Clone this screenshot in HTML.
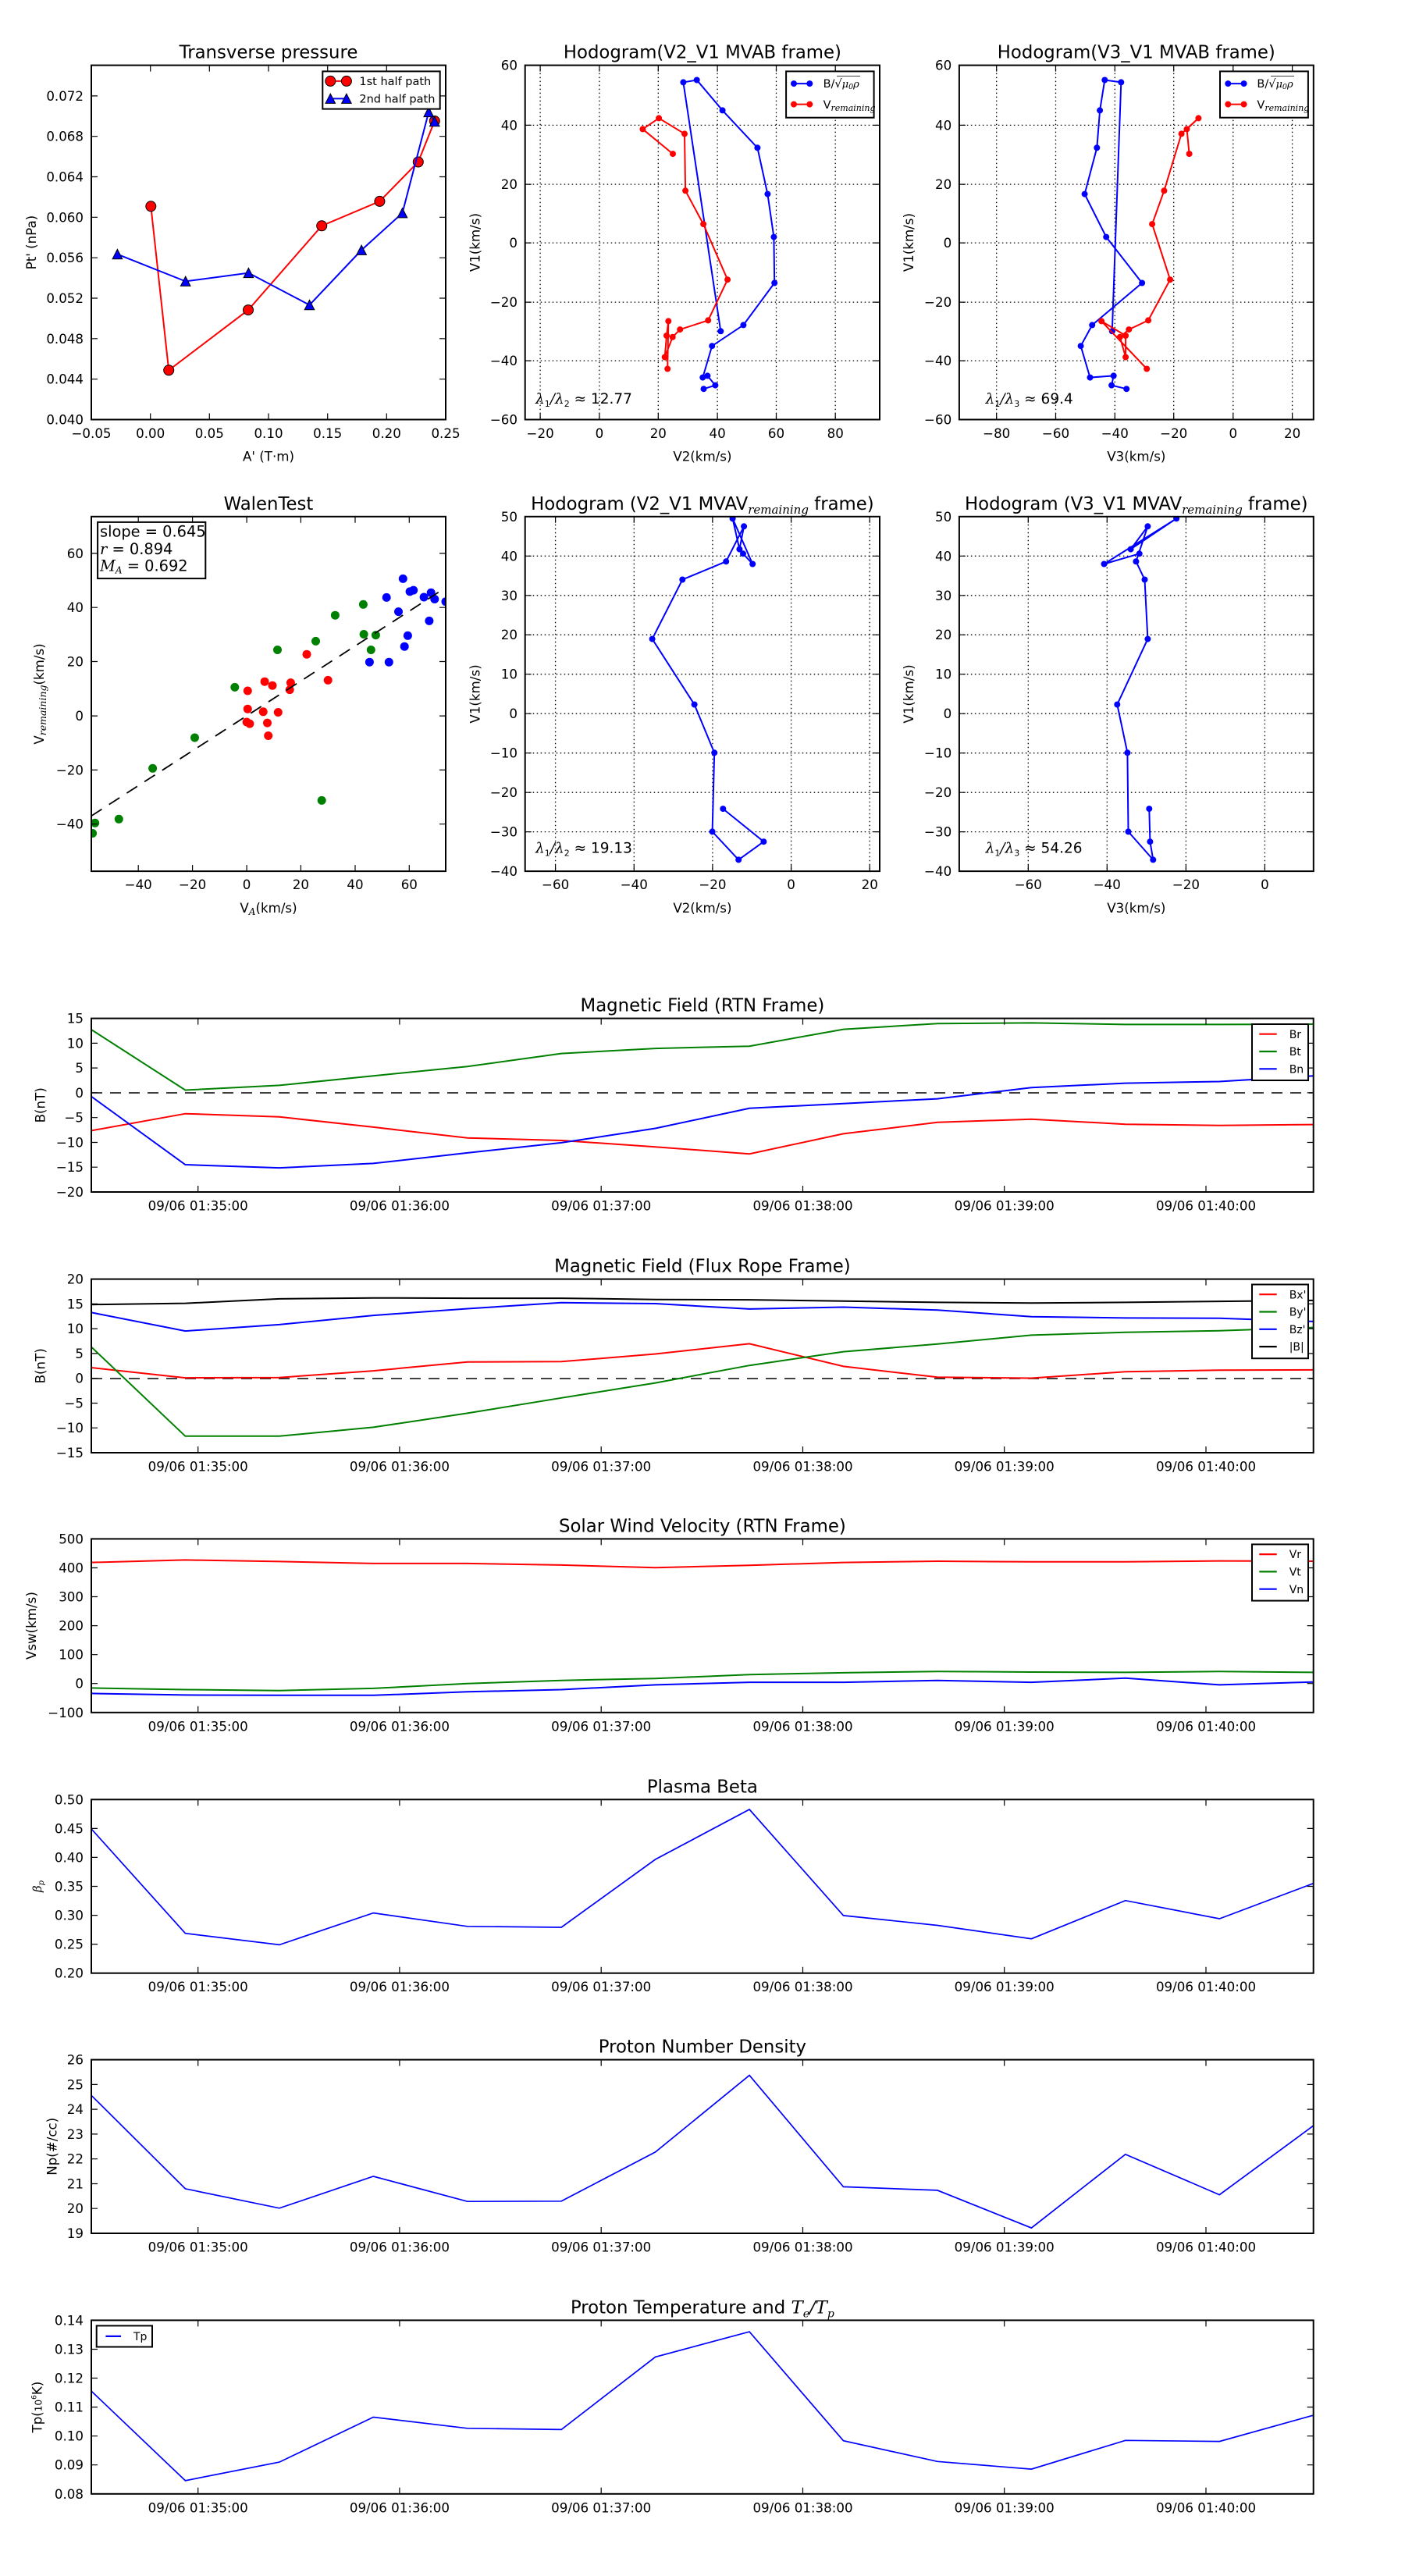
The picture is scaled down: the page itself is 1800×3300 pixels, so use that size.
<!DOCTYPE html>
<html><head><meta charset="utf-8"><style>
html,body{margin:0;padding:0;background:#fff}
svg{display:block}
.tk{font-size:16.67px}
.ttl{font-size:22.8px}
.lg{font-size:14px}
.lg1{font-size:14.5px}
.mi{font-family:'DejaVu Serif','Liberation Serif',serif;font-style:italic}
.grid{stroke:#000;stroke-width:1.3;stroke-dasharray:1.5 3.5;fill:none}
</style></head><body>
<svg width="1800" height="3300" xmlns="http://www.w3.org/2000/svg" font-family="'DejaVu Sans','Liberation Sans',sans-serif">
<defs>
<clipPath id="c1"><rect x="117" y="83.6" width="454" height="453.9"/></clipPath>
<clipPath id="c2"><rect x="672.7" y="83.6" width="454.3" height="453.9"/></clipPath>
<clipPath id="c3"><rect x="1228.9" y="83.6" width="453.9" height="453.9"/></clipPath>
<clipPath id="c4"><rect x="117" y="661.8" width="454" height="454.3"/></clipPath>
<clipPath id="c5"><rect x="672.7" y="661.8" width="454.3" height="454.3"/></clipPath>
<clipPath id="c6"><rect x="1228.9" y="661.8" width="453.9" height="454.3"/></clipPath>
<clipPath id="t1"><rect x="117" y="1304.6" width="1565.7" height="222.4"/></clipPath>
<clipPath id="t2"><rect x="117" y="1638.6" width="1565.7" height="222.4"/></clipPath>
<clipPath id="t3"><rect x="117" y="1971.4" width="1565.7" height="222.4"/></clipPath>
<clipPath id="t4"><rect x="117" y="2305.3" width="1565.7" height="222.4"/></clipPath>
<clipPath id="t5"><rect x="117" y="2638.6" width="1565.7" height="222.4"/></clipPath>
<clipPath id="t6"><rect x="117" y="2972.4" width="1565.7" height="222.4"/></clipPath>
<marker id="mrc" viewBox="-8 -8 16 16" markerWidth="16" markerHeight="16" refX="0" refY="0" markerUnits="userSpaceOnUse" overflow="visible"><circle r="6.5" fill="#f00" stroke="#000" stroke-width="1"/></marker>
<marker id="mbt" viewBox="-8 -8 16 16" markerWidth="16" markerHeight="16" refX="0" refY="0" markerUnits="userSpaceOnUse" overflow="visible"><path d="M0,-6.3L6.3,6L-6.3,6Z" fill="#00f" stroke="#000" stroke-width="1"/></marker>
<marker id="mb" viewBox="-5 -5 10 10" markerWidth="10" markerHeight="10" refX="0" refY="0" markerUnits="userSpaceOnUse" overflow="visible"><circle r="4" fill="#00f"/></marker>
<marker id="mr" viewBox="-5 -5 10 10" markerWidth="10" markerHeight="10" refX="0" refY="0" markerUnits="userSpaceOnUse" overflow="visible"><circle r="4" fill="#f00"/></marker>
</defs>
<rect width="1800" height="3300" fill="#fff"/>

<!-- ============ Panel 1: Transverse pressure ============ -->
<text class="ttl" x="344" y="74.6" text-anchor="middle">Transverse pressure</text>
<g clip-path="url(#c1)">
<polyline points="193.3,264.3 216.2,474.3 318,397.1 412.2,289.3 486.4,257.9 535.8,207.5 556.8,155" fill="none" stroke="#f00" stroke-width="2" marker-start="url(#mrc)" marker-mid="url(#mrc)" marker-end="url(#mrc)"/>
<polyline points="150.4,325.7 237.7,360.4 318.4,349.6 396.5,390.7 463.1,320.4 515.5,272.9 549.2,143.6 556.8,155.7" fill="none" stroke="#00f" stroke-width="2" marker-start="url(#mbt)" marker-mid="url(#mbt)" marker-end="url(#mbt)"/>
</g>
<path d="M192.7 537.5v-8M192.7 83.6v8M268.3 537.5v-8M268.3 83.6v8M344 537.5v-8M344 83.6v8M419.7 537.5v-8M419.7 83.6v8M495.3 537.5v-8M495.3 83.6v8M117 485.7h8M571 485.7h-8M117 433.8h8M571 433.8h-8M117 382h8M571 382h-8M117 330.2h8M571 330.2h-8M117 278.3h8M571 278.3h-8M117 226.5h8M571 226.5h-8M117 174.7h8M571 174.7h-8M117 122.9h8M571 122.9h-8" stroke="#000" stroke-width="1.2" fill="none"/>
<rect x="117" y="83.6" width="454" height="453.9" fill="none" stroke="#000" stroke-width="2"/>
<g class="tk" text-anchor="end">
<text x="107" y="543.5">0.040</text><text x="107" y="491.7">0.044</text><text x="107" y="439.8">0.048</text><text x="107" y="388">0.052</text><text x="107" y="336.2">0.056</text><text x="107" y="284.3">0.060</text><text x="107" y="232.5">0.064</text><text x="107" y="180.7">0.068</text><text x="107" y="128.9">0.072</text>
</g>
<g class="tk" text-anchor="middle">
<text x="117" y="560.8">−0.05</text><text x="192.7" y="560.8">0.00</text><text x="268.3" y="560.8">0.05</text><text x="344" y="560.8">0.10</text><text x="419.7" y="560.8">0.15</text><text x="495.3" y="560.8">0.20</text><text x="571" y="560.8">0.25</text>
<text x="344" y="590.5">A' (T·m)</text>
<text transform="translate(40.2,310.6) rotate(-90)" y="6">Pt' (nPa)</text>
</g>
<rect x="413.3" y="91.4" width="150.4" height="48.2" fill="#fff" stroke="#000" stroke-width="2"/>
<line x1="423.3" y1="103.9" x2="443.9" y2="103.9" stroke="#f00" stroke-width="2" marker-start="url(#mrc)" marker-end="url(#mrc)"/>
<line x1="423.3" y1="126.4" x2="443.9" y2="126.4" stroke="#00f" stroke-width="2" marker-start="url(#mbt)" marker-end="url(#mbt)"/>
<text class="lg1" x="460.4" y="109">1st half path</text>
<text class="lg1" x="460.4" y="131.5">2nd half path</text>

<!-- ============ Panel 2: Hodogram V2_V1 MVAB ============ -->
<text class="ttl" x="899.9" y="74.6" text-anchor="middle">Hodogram(V2_V1 MVAB frame)</text>
<path class="grid" d="M692.1 83.6V537.5M767.9 83.6V537.5M843.3 83.6V537.5M919.1 83.6V537.5M994.5 83.6V537.5M1070.2 83.6V537.5M672.7 160.4H1127M672.7 236.1H1127M672.7 311.1H1127M672.7 387.1H1127M672.7 462.1H1127"/>
<g clip-path="url(#c2)">
<polyline points="923.3,424.3 875.4,105.4 892.7,102.5 925.6,141.4 970.4,189.3 983.4,248.6 991.4,303.6 992.2,362.5 952.4,416.4 912.2,443.2 900.3,483.6 906.4,481.4 916.4,493.6 901.5,498.2" fill="none" stroke="#00f" stroke-width="2" marker-start="url(#mb)" marker-mid="url(#mb)" marker-end="url(#mb)"/>
<polyline points="862,197.1 823.4,165.4 844.1,151.4 877,171.4 878.1,244.3 901.1,287.1 932.1,358.2 907.2,410.4 871.2,422.1 861.7,431.8 851.7,457.5 854,430 856.3,411.4 855.2,472.5" fill="none" stroke="#f00" stroke-width="2" marker-start="url(#mr)" marker-mid="url(#mr)" marker-end="url(#mr)"/>
</g>
<path d="M692.1 537.5v-8M692.1 83.6v8M767.9 537.5v-8M767.9 83.6v8M843.3 537.5v-8M843.3 83.6v8M919.1 537.5v-8M919.1 83.6v8M994.5 537.5v-8M994.5 83.6v8M1070.2 537.5v-8M1070.2 83.6v8M672.7 160.4h8M1127 160.4h-8M672.7 236.1h8M1127 236.1h-8M672.7 311.1h8M1127 311.1h-8M672.7 387.1h8M1127 387.1h-8M672.7 462.1h8M1127 462.1h-8" stroke="#000" stroke-width="1.2" fill="none"/>
<rect x="672.7" y="83.6" width="454.3" height="453.9" fill="none" stroke="#000" stroke-width="2"/>
<g class="tk" text-anchor="end">
<text x="663" y="89.6">60</text><text x="663" y="166.4">40</text><text x="663" y="242.1">20</text><text x="663" y="317.1">0</text><text x="663" y="393.1">−20</text><text x="663" y="468.1">−40</text><text x="663" y="543.5">−60</text>
</g>
<g class="tk" text-anchor="middle">
<text x="692.1" y="560.8">−20</text><text x="767.9" y="560.8">0</text><text x="843.3" y="560.8">20</text><text x="919.1" y="560.8">40</text><text x="994.5" y="560.8">60</text><text x="1070.2" y="560.8">80</text>
<text x="899.9" y="590.5">V2(km/s)</text>
<text transform="translate(608.7,310.6) rotate(-90)" y="6">V1(km/s)</text>
</g>
<text x="686" y="517" font-size="18.5"><tspan class="mi">λ</tspan><tspan font-size="11" dy="4">1</tspan><tspan class="mi" dy="-4">/λ</tspan><tspan font-size="11" dy="4">2</tspan><tspan dy="-4"> ≈ 12.77</tspan></text>
<rect x="1007.1" y="91.4" width="112.5" height="59.3" fill="#fff" stroke="#000" stroke-width="2"/>
<line x1="1017" y1="107.1" x2="1037.3" y2="107.1" stroke="#00f" stroke-width="2" marker-start="url(#mb)" marker-end="url(#mb)"/>
<line x1="1017" y1="133.6" x2="1037.3" y2="133.6" stroke="#f00" stroke-width="2" marker-start="url(#mr)" marker-end="url(#mr)"/>
<text class="lg1" x="1054.6" y="112">B/√<tspan class="mi" font-size="13">μ</tspan><tspan class="mi" font-size="9.5" dy="2">0</tspan><tspan class="mi" font-size="13" dy="-2">ρ</tspan></text>
<line x1="1072" y1="97.5" x2="1102" y2="97.5" stroke="#000" stroke-width="0.8"/>
<text class="lg1" x="1054.6" y="139">V<tspan class="mi" font-size="11" dy="3">remaining</tspan></text>

<!-- ============ Panel 3: Hodogram V3_V1 MVAB ============ -->
<text class="ttl" x="1455.8" y="74.6" text-anchor="middle">Hodogram(V3_V1 MVAB frame)</text>
<path class="grid" d="M1276.7 83.6V537.5M1352.5 83.6V537.5M1428.3 83.6V537.5M1503.7 83.6V537.5M1579.8 83.6V537.5M1655.6 83.6V537.5M1228.9 160.4H1682.8M1228.9 236.1H1682.8M1228.9 311.1H1682.8M1228.9 387.1H1682.8M1228.9 462.1H1682.8"/>
<g clip-path="url(#c3)">
<polyline points="1424.8,424.3 1436.3,105.4 1415.3,102.5 1409.1,141.4 1405.3,189.3 1389.6,248.6 1417.2,303.6 1463.1,362.5 1399.2,416.4 1384.6,443.2 1396.5,483.6 1426.7,481.4 1424.1,493.6 1443.2,498.2" fill="none" stroke="#00f" stroke-width="2" marker-start="url(#mb)" marker-mid="url(#mb)" marker-end="url(#mb)"/>
<polyline points="1523.6,197.1 1520.5,165.4 1535.4,151.4 1513.6,171.4 1491.4,244.3 1476.1,287.1 1499.1,358.2 1471.1,410.4 1446.3,422.1 1434.8,431.8 1442.1,457.5 1442.1,430 1411.1,411.4 1469.2,472.5" fill="none" stroke="#f00" stroke-width="2" marker-start="url(#mr)" marker-mid="url(#mr)" marker-end="url(#mr)"/>
</g>
<path d="M1276.7 537.5v-8M1276.7 83.6v8M1352.5 537.5v-8M1352.5 83.6v8M1428.3 537.5v-8M1428.3 83.6v8M1503.7 537.5v-8M1503.7 83.6v8M1579.8 537.5v-8M1579.8 83.6v8M1655.6 537.5v-8M1655.6 83.6v8M1228.9 160.4h8M1682.8 160.4h-8M1228.9 236.1h8M1682.8 236.1h-8M1228.9 311.1h8M1682.8 311.1h-8M1228.9 387.1h8M1682.8 387.1h-8M1228.9 462.1h8M1682.8 462.1h-8" stroke="#000" stroke-width="1.2" fill="none"/>
<rect x="1228.9" y="83.6" width="453.9" height="453.9" fill="none" stroke="#000" stroke-width="2"/>
<g class="tk" text-anchor="end">
<text x="1219.2" y="89.6">60</text><text x="1219.2" y="166.4">40</text><text x="1219.2" y="242.1">20</text><text x="1219.2" y="317.1">0</text><text x="1219.2" y="393.1">−20</text><text x="1219.2" y="468.1">−40</text><text x="1219.2" y="543.5">−60</text>
</g>
<g class="tk" text-anchor="middle">
<text x="1276.7" y="560.8">−80</text><text x="1352.5" y="560.8">−60</text><text x="1428.3" y="560.8">−40</text><text x="1503.7" y="560.8">−20</text><text x="1579.8" y="560.8">0</text><text x="1655.6" y="560.8">20</text>
<text x="1455.8" y="590.5">V3(km/s)</text>
<text transform="translate(1164,310.6) rotate(-90)" y="6">V1(km/s)</text>
</g>
<text x="1262.6" y="517" font-size="18.5"><tspan class="mi">λ</tspan><tspan font-size="11" dy="4">1</tspan><tspan class="mi" dy="-4">/λ</tspan><tspan font-size="11" dy="4">3</tspan><tspan dy="-4"> ≈ 69.4</tspan></text>
<rect x="1563" y="91.4" width="112.9" height="59.3" fill="#fff" stroke="#000" stroke-width="2"/>
<line x1="1573.3" y1="107.1" x2="1593.6" y2="107.1" stroke="#00f" stroke-width="2" marker-start="url(#mb)" marker-end="url(#mb)"/>
<line x1="1573.3" y1="133.6" x2="1593.6" y2="133.6" stroke="#f00" stroke-width="2" marker-start="url(#mr)" marker-end="url(#mr)"/>
<text class="lg1" x="1610.4" y="112">B/√<tspan class="mi" font-size="13">μ</tspan><tspan class="mi" font-size="9.5" dy="2">0</tspan><tspan class="mi" font-size="13" dy="-2">ρ</tspan></text>
<line x1="1628" y1="97.5" x2="1658" y2="97.5" stroke="#000" stroke-width="0.8"/>
<text class="lg1" x="1610.4" y="139">V<tspan class="mi" font-size="11" dy="3">remaining</tspan></text>

<!-- ============ Walen Test ============ -->
<text class="ttl" x="344" y="652.8" text-anchor="middle">WalenTest</text>
<g clip-path="url(#c4)">
<g fill="#008000">
<circle cx="118.6" cy="1067.5" r="5.5"/><circle cx="121.7" cy="1054.3" r="5.5"/><circle cx="152.3" cy="1049.3" r="5.5"/><circle cx="195.6" cy="984.3" r="5.5"/><circle cx="249.5" cy="945" r="5.5"/><circle cx="300.8" cy="880.4" r="5.5"/><circle cx="355.5" cy="832.5" r="5.5"/><circle cx="404.5" cy="821.4" r="5.5"/><circle cx="429.4" cy="788.2" r="5.5"/><circle cx="465.4" cy="774.3" r="5.5"/><circle cx="466.1" cy="812.5" r="5.5"/><circle cx="481.4" cy="813.6" r="5.5"/><circle cx="475.3" cy="832.5" r="5.5"/><circle cx="412.2" cy="1025.4" r="5.5"/>
</g>
<g fill="#f00">
<circle cx="317.3" cy="885" r="5.5"/><circle cx="317.3" cy="908.2" r="5.5"/><circle cx="316.1" cy="925" r="5.5"/><circle cx="319.9" cy="927.1" r="5.5"/><circle cx="339.1" cy="873.2" r="5.5"/><circle cx="349" cy="878.2" r="5.5"/><circle cx="337.2" cy="911.8" r="5.5"/><circle cx="356.3" cy="912.5" r="5.5"/><circle cx="342.5" cy="926.1" r="5.5"/><circle cx="343.7" cy="942.5" r="5.5"/><circle cx="371.2" cy="883.6" r="5.5"/><circle cx="372.4" cy="874.6" r="5.5"/><circle cx="393" cy="838.2" r="5.5"/><circle cx="420.2" cy="871.4" r="5.5"/>
</g>
<g fill="#00f">
<circle cx="516.3" cy="741.4" r="5.5"/><circle cx="495.2" cy="765.4" r="5.5"/><circle cx="510.5" cy="783.6" r="5.5"/><circle cx="473.4" cy="848.2" r="5.5"/><circle cx="498.3" cy="848.2" r="5.5"/><circle cx="518.2" cy="828.2" r="5.5"/><circle cx="522.4" cy="814.3" r="5.5"/><circle cx="525.1" cy="757.9" r="5.5"/><circle cx="529.7" cy="756.1" r="5.5"/><circle cx="543.1" cy="765" r="5.5"/><circle cx="552.2" cy="759.3" r="5.5"/><circle cx="556.8" cy="767.5" r="5.5"/><circle cx="549.9" cy="795.4" r="5.5"/><circle cx="571" cy="770.7" r="5.5"/>
</g>
<line x1="117" y1="1045.3" x2="571" y2="752.8" stroke="#000" stroke-width="1.8" stroke-dasharray="16 11"/>
</g>
<path d="M177.2 1116.1v-8M177.2 661.8v8M246.6 1116.1v-8M246.6 661.8v8M316.1 1116.1v-8M316.1 661.8v8M385.4 1116.1v-8M385.4 661.8v8M455 1116.1v-8M455 661.8v8M524.3 1116.1v-8M524.3 661.8v8M117 708.9h8M571 708.9h-8M117 778.2h8M571 778.2h-8M117 847.5h8M571 847.5h-8M117 917.1h8M571 917.1h-8M117 986.4h8M571 986.4h-8M117 1055.7h8M571 1055.7h-8" stroke="#000" stroke-width="1.2" fill="none"/>
<rect x="117" y="661.8" width="454" height="454.3" fill="none" stroke="#000" stroke-width="2"/>
<g class="tk" text-anchor="end">
<text x="107" y="714.9">60</text><text x="107" y="784.2">40</text><text x="107" y="853.5">20</text><text x="107" y="923.1">0</text><text x="107" y="992.4">−20</text><text x="107" y="1061.7">−40</text>
</g>
<g class="tk" text-anchor="middle">
<text x="177.2" y="1138.8">−40</text><text x="246.6" y="1138.8">−20</text><text x="316.1" y="1138.8">0</text><text x="385.4" y="1138.8">20</text><text x="455" y="1138.8">40</text><text x="524.3" y="1138.8">60</text>
<text x="344" y="1169">V<tspan class="mi" font-size="12" dy="3">A</tspan><tspan dy="-3">(km/s)</tspan></text>
<text transform="translate(49.8,889) rotate(-90)" y="6">V<tspan class="mi" font-size="12.5" dy="3">remaining</tspan><tspan dy="-3">(km/s)</tspan></text>
</g>
<rect x="125.1" y="668.9" width="138.2" height="72.2" fill="#fff" stroke="#000" stroke-width="2"/>
<g font-size="19.4">
<text x="128" y="687.4">slope = 0.645</text>
<text x="128" y="709.9"><tspan class="mi">r</tspan> = 0.894</text>
<text x="128" y="731.3"><tspan class="mi">M</tspan><tspan class="mi" font-size="12" dy="3">A</tspan><tspan dy="-3"> = 0.692</tspan></text>
</g>

<!-- ============ Row 2 Panel 2 ============ -->
<text class="ttl" x="899.9" y="652.8" text-anchor="middle">Hodogram (V2_V1 MVAV<tspan class="mi" font-size="15" dy="5">remaining</tspan><tspan dy="-5"> frame)</tspan></text>
<path class="grid" d="M711.6 661.8V1116.1M812.3 661.8V1116.1M912.9 661.8V1116.1M1013.6 661.8V1116.1M1114.2 661.8V1116.1M672.7 712.3H1127M672.7 762.8H1127M672.7 813.2H1127M672.7 863.7H1127M672.7 914.2H1127M672.7 964.7H1127M672.7 1015.2H1127M672.7 1065.6H1127"/>
<g clip-path="url(#c5)">
<polyline points="926.3,1036.1 978.4,1078.2 946.2,1101.4 912.6,1065.4 915.2,964.3 889.6,902.5 835.6,818.6 874.3,742.5 930.2,719.3 953.1,674.3 947.4,703.6 938.6,664.3 964.2,722.5 952,709.3" fill="none" stroke="#00f" stroke-width="2" marker-start="url(#mb)" marker-mid="url(#mb)" marker-end="url(#mb)"/>
</g>
<path d="M711.6 1116.1v-8M711.6 661.8v8M812.3 1116.1v-8M812.3 661.8v8M912.9 1116.1v-8M912.9 661.8v8M1013.6 1116.1v-8M1013.6 661.8v8M1114.2 1116.1v-8M1114.2 661.8v8M672.7 712.3h8M1127 712.3h-8M672.7 762.8h8M1127 762.8h-8M672.7 813.2h8M1127 813.2h-8M672.7 863.7h8M1127 863.7h-8M672.7 914.2h8M1127 914.2h-8M672.7 964.7h8M1127 964.7h-8M672.7 1015.2h8M1127 1015.2h-8M672.7 1065.6h8M1127 1065.6h-8" stroke="#000" stroke-width="1.2" fill="none"/>
<rect x="672.7" y="661.8" width="454.3" height="454.3" fill="none" stroke="#000" stroke-width="2"/>
<g class="tk" text-anchor="end">
<text x="663" y="667.8">50</text><text x="663" y="718.3">40</text><text x="663" y="768.8">30</text><text x="663" y="819.2">20</text><text x="663" y="869.7">10</text><text x="663" y="920.2">0</text><text x="663" y="970.7">−10</text><text x="663" y="1021.2">−20</text><text x="663" y="1071.6">−30</text><text x="663" y="1122.1">−40</text>
</g>
<g class="tk" text-anchor="middle">
<text x="711.6" y="1138.8">−60</text><text x="812.3" y="1138.8">−40</text><text x="912.9" y="1138.8">−20</text><text x="1013.6" y="1138.8">0</text><text x="1114.2" y="1138.8">20</text>
<text x="899.9" y="1169">V2(km/s)</text>
<text transform="translate(608.7,889) rotate(-90)" y="6">V1(km/s)</text>
</g>
<text x="686" y="1092.3" font-size="18.5"><tspan class="mi">λ</tspan><tspan font-size="11" dy="4">1</tspan><tspan class="mi" dy="-4">/λ</tspan><tspan font-size="11" dy="4">2</tspan><tspan dy="-4"> ≈ 19.13</tspan></text>

<!-- ============ Row 2 Panel 3 ============ -->
<text class="ttl" x="1455.8" y="652.8" text-anchor="middle">Hodogram (V3_V1 MVAV<tspan class="mi" font-size="15" dy="5">remaining</tspan><tspan dy="-5"> frame)</tspan></text>
<path class="grid" d="M1317.3 661.8V1116.1M1418.3 661.8V1116.1M1519.4 661.8V1116.1M1620.4 661.8V1116.1M1228.9 712.3H1682.8M1228.9 762.8H1682.8M1228.9 813.2H1682.8M1228.9 863.7H1682.8M1228.9 914.2H1682.8M1228.9 964.7H1682.8M1228.9 1015.2H1682.8M1228.9 1065.6H1682.8"/>
<g clip-path="url(#c6)">
<polyline points="1472.3,1036.1 1473.4,1078.2 1477.3,1101.4 1445.5,1065.4 1444.4,964.3 1431.3,902.5 1470.4,818.6 1466.5,742.5 1455.4,719.3 1470.4,674.3 1448.6,703.6 1507.1,664.3 1414.5,722.5 1459.7,709.3" fill="none" stroke="#00f" stroke-width="2" marker-start="url(#mb)" marker-mid="url(#mb)" marker-end="url(#mb)"/>
</g>
<path d="M1317.3 1116.1v-8M1317.3 661.8v8M1418.3 1116.1v-8M1418.3 661.8v8M1519.4 1116.1v-8M1519.4 661.8v8M1620.4 1116.1v-8M1620.4 661.8v8M1228.9 712.3h8M1682.8 712.3h-8M1228.9 762.8h8M1682.8 762.8h-8M1228.9 813.2h8M1682.8 813.2h-8M1228.9 863.7h8M1682.8 863.7h-8M1228.9 914.2h8M1682.8 914.2h-8M1228.9 964.7h8M1682.8 964.7h-8M1228.9 1015.2h8M1682.8 1015.2h-8M1228.9 1065.6h8M1682.8 1065.6h-8" stroke="#000" stroke-width="1.2" fill="none"/>
<rect x="1228.9" y="661.8" width="453.9" height="454.3" fill="none" stroke="#000" stroke-width="2"/>
<g class="tk" text-anchor="end">
<text x="1219.2" y="667.8">50</text><text x="1219.2" y="718.3">40</text><text x="1219.2" y="768.8">30</text><text x="1219.2" y="819.2">20</text><text x="1219.2" y="869.7">10</text><text x="1219.2" y="920.2">0</text><text x="1219.2" y="970.7">−10</text><text x="1219.2" y="1021.2">−20</text><text x="1219.2" y="1071.6">−30</text><text x="1219.2" y="1122.1">−40</text>
</g>
<g class="tk" text-anchor="middle">
<text x="1317.3" y="1138.8">−60</text><text x="1418.3" y="1138.8">−40</text><text x="1519.4" y="1138.8">−20</text><text x="1620.4" y="1138.8">0</text>
<text x="1455.8" y="1169">V3(km/s)</text>
<text transform="translate(1164,889) rotate(-90)" y="6">V1(km/s)</text>
</g>
<text x="1262.6" y="1092.3" font-size="18.5"><tspan class="mi">λ</tspan><tspan font-size="11" dy="4">1</tspan><tspan class="mi" dy="-4">/λ</tspan><tspan font-size="11" dy="4">3</tspan><tspan dy="-4"> ≈ 54.26</tspan></text>

<!-- ============ TS 1: Magnetic Field RTN ============ -->
<text class="ttl" x="899.9" y="1295.6" text-anchor="middle">Magnetic Field (RTN Frame)</text>
<g clip-path="url(#t1)">
<line x1="117" y1="1400" x2="1682.7" y2="1400" stroke="#000" stroke-width="1.5" stroke-dasharray="14 10"/>
<polyline points="117,1448.4 237.4,1426.7 357.9,1430.8 478.3,1443.9 598.8,1457.8 719.2,1461 839.6,1469.2 960.1,1478.2 1080.5,1452.4 1201,1437.8 1321.4,1433.7 1441.8,1440.2 1562.3,1441.8 1682.7,1440.6" fill="none" stroke="#f00" stroke-width="2"/>
<polyline points="117,1319 237.4,1396.5 357.9,1390.4 478.3,1378.2 598.8,1366.3 719.2,1349.6 839.6,1343.1 960.1,1340.2 1080.5,1318.6 1201,1311.2 1321.4,1310.4 1441.8,1312.4 1562.3,1312.4 1682.7,1312" fill="none" stroke="#008000" stroke-width="2"/>
<polyline points="117,1404.7 237.4,1492 357.9,1496.1 478.3,1490.4 598.8,1476.9 719.2,1463.9 839.6,1445.5 960.1,1419.8 1080.5,1413.7 1201,1407.6 1321.4,1393.3 1441.8,1387.6 1562.3,1385.5 1682.7,1378.2" fill="none" stroke="#00f" stroke-width="2"/>
</g>
<path d="M253.7 1527v-8M253.7 1304.6v8M511.9 1527v-8M511.9 1304.6v8M770.2 1527v-8M770.2 1304.6v8M1028.5 1527v-8M1028.5 1304.6v8M1286.7 1527v-8M1286.7 1304.6v8M1545 1527v-8M1545 1304.6v8M117 1336.4h8M1682.7 1336.4h-8M117 1368.1h8M1682.7 1368.1h-8M117 1399.9h8M1682.7 1399.9h-8M117 1431.7h8M1682.7 1431.7h-8M117 1463.5h8M1682.7 1463.5h-8M117 1495.2h8M1682.7 1495.2h-8" stroke="#000" stroke-width="1.2" fill="none"/>
<rect x="117" y="1304.6" width="1565.7" height="222.4" fill="none" stroke="#000" stroke-width="2"/>
<g class="tk" text-anchor="end">
<text x="107" y="1310.6">15</text><text x="107" y="1342.4">10</text><text x="107" y="1374.1">5</text><text x="107" y="1405.9">0</text><text x="107" y="1437.7">−5</text><text x="107" y="1469.5">−10</text><text x="107" y="1501.2">−15</text><text x="107" y="1533">−20</text>
</g>
<g class="tk" text-anchor="middle">
<text x="253.7" y="1550.5">09/06 01:35:00</text><text x="511.9" y="1550.5">09/06 01:36:00</text><text x="770.2" y="1550.5">09/06 01:37:00</text><text x="1028.5" y="1550.5">09/06 01:38:00</text><text x="1286.7" y="1550.5">09/06 01:39:00</text><text x="1545" y="1550.5">09/06 01:40:00</text>
<text transform="translate(51.7,1415.8) rotate(-90)" y="6">B(nT)</text>
</g>
<rect x="1604" y="1312" width="72" height="72" fill="#fff" stroke="#000" stroke-width="2"/>
<line x1="1613.3" y1="1324.7" x2="1635.7" y2="1324.7" stroke="#f00" stroke-width="2.2"/>
<line x1="1613.3" y1="1347" x2="1635.7" y2="1347" stroke="#008000" stroke-width="2.2"/>
<line x1="1613.3" y1="1369.3" x2="1635.7" y2="1369.3" stroke="#00f" stroke-width="2.2"/>
<g class="lg"><text x="1651.7" y="1329.8">Br</text><text x="1651.7" y="1352.1">Bt</text><text x="1651.7" y="1374.4">Bn</text></g>

<!-- ============ TS 2: Magnetic Field Flux Rope ============ -->
<text class="ttl" x="899.9" y="1629.6" text-anchor="middle">Magnetic Field (Flux Rope Frame)</text>
<g clip-path="url(#t2)">
<line x1="117" y1="1766" x2="1682.7" y2="1766" stroke="#000" stroke-width="1.5" stroke-dasharray="14 10"/>
<polyline points="117,1752 237.4,1765.1 357.9,1764.7 478.3,1756.1 598.8,1744.7 719.2,1744.3 839.6,1734.5 960.1,1721.4 1080.5,1750.4 1201,1764.3 1321.4,1765.5 1441.8,1757.3 1562.3,1755.3 1682.7,1754.9" fill="none" stroke="#f00" stroke-width="2"/>
<polyline points="117,1725.5 237.4,1839.8 357.9,1839.8 478.3,1828.4 598.8,1810.4 719.2,1790.8 839.6,1771.6 960.1,1749.2 1080.5,1731.6 1201,1721.8 1321.4,1710.4 1441.8,1706.7 1562.3,1704.7 1682.7,1700.6" fill="none" stroke="#008000" stroke-width="2"/>
<polyline points="117,1681.4 237.4,1705.1 357.9,1696.9 478.3,1685.1 598.8,1676.5 719.2,1668.8 839.6,1670 960.1,1676.9 1080.5,1674.5 1201,1678.2 1321.4,1686.7 1441.8,1688.4 1562.3,1688.8 1682.7,1692.9" fill="none" stroke="#00f" stroke-width="2"/>
<polyline points="117,1671.2 237.4,1669.6 357.9,1663.9 478.3,1662.7 598.8,1663.1 719.2,1663.1 839.6,1664.7 960.1,1665.1 1080.5,1666.7 1201,1668.4 1321.4,1669.2 1441.8,1668.4 1562.3,1667.1 1682.7,1665.9" fill="none" stroke="#000" stroke-width="2"/>
</g>
<path d="M253.7 1861v-8M253.7 1638.6v8M511.9 1861v-8M511.9 1638.6v8M770.2 1861v-8M770.2 1638.6v8M1028.5 1861v-8M1028.5 1638.6v8M1286.7 1861v-8M1286.7 1638.6v8M1545 1861v-8M1545 1638.6v8M117 1670.4h8M1682.7 1670.4h-8M117 1702.1h8M1682.7 1702.1h-8M117 1733.9h8M1682.7 1733.9h-8M117 1765.7h8M1682.7 1765.7h-8M117 1797.5h8M1682.7 1797.5h-8M117 1829.2h8M1682.7 1829.2h-8" stroke="#000" stroke-width="1.2" fill="none"/>
<rect x="117" y="1638.6" width="1565.7" height="222.4" fill="none" stroke="#000" stroke-width="2"/>
<g class="tk" text-anchor="end">
<text x="107" y="1644.6">20</text><text x="107" y="1676.4">15</text><text x="107" y="1708.1">10</text><text x="107" y="1739.9">5</text><text x="107" y="1771.7">0</text><text x="107" y="1803.5">−5</text><text x="107" y="1835.2">−10</text><text x="107" y="1867">−15</text>
</g>
<g class="tk" text-anchor="middle">
<text x="253.7" y="1884.5">09/06 01:35:00</text><text x="511.9" y="1884.5">09/06 01:36:00</text><text x="770.2" y="1884.5">09/06 01:37:00</text><text x="1028.5" y="1884.5">09/06 01:38:00</text><text x="1286.7" y="1884.5">09/06 01:39:00</text><text x="1545" y="1884.5">09/06 01:40:00</text>
<text transform="translate(51.7,1749.8) rotate(-90)" y="6">B(nT)</text>
</g>
<rect x="1604" y="1645.5" width="72" height="94.7" fill="#fff" stroke="#000" stroke-width="2"/>
<line x1="1613.3" y1="1658.2" x2="1635.7" y2="1658.2" stroke="#f00" stroke-width="2.2"/>
<line x1="1613.3" y1="1680.5" x2="1635.7" y2="1680.5" stroke="#008000" stroke-width="2.2"/>
<line x1="1613.3" y1="1702.8" x2="1635.7" y2="1702.8" stroke="#00f" stroke-width="2.2"/>
<line x1="1613.3" y1="1725.1" x2="1635.7" y2="1725.1" stroke="#000" stroke-width="2.2"/>
<g class="lg"><text x="1651.7" y="1663.3">Bx'</text><text x="1651.7" y="1685.6">By'</text><text x="1651.7" y="1707.9">Bz'</text><text x="1651.7" y="1730.2">|B|</text></g>

<!-- ============ TS 3: Solar Wind Velocity ============ -->
<text class="ttl" x="899.9" y="1962.4" text-anchor="middle">Solar Wind Velocity (RTN Frame)</text>
<g clip-path="url(#t3)">
<polyline points="117,2001.6 237.4,1998.4 357.9,2000.4 478.3,2002.9 598.8,2002.9 719.2,2004.9 839.6,2008.2 960.1,2005.3 1080.5,2001.6 1201,2000 1321.4,2000.8 1441.8,2000.8 1562.3,1999.6 1682.7,2000" fill="none" stroke="#f00" stroke-width="2"/>
<polyline points="117,2162.4 237.4,2164.5 357.9,2165.7 478.3,2162.9 598.8,2156.7 719.2,2152.7 839.6,2150.2 960.1,2145.3 1080.5,2142.9 1201,2141.2 1321.4,2142 1441.8,2142.4 1562.3,2141.2 1682.7,2142.4" fill="none" stroke="#008000" stroke-width="2"/>
<polyline points="117,2169.4 237.4,2171.4 357.9,2171.8 478.3,2171.8 598.8,2167.3 719.2,2164.5 839.6,2158.4 960.1,2155.1 1080.5,2155.1 1201,2152.7 1321.4,2155.1 1441.8,2149.8 1562.3,2158.4 1682.7,2154.7" fill="none" stroke="#00f" stroke-width="2"/>
</g>
<path d="M253.7 2193.8v-8M253.7 1971.4v8M511.9 2193.8v-8M511.9 1971.4v8M770.2 2193.8v-8M770.2 1971.4v8M1028.5 2193.8v-8M1028.5 1971.4v8M1286.7 2193.8v-8M1286.7 1971.4v8M1545 2193.8v-8M1545 1971.4v8M117 2008.5h8M1682.7 2008.5h-8M117 2045.5h8M1682.7 2045.5h-8M117 2082.6h8M1682.7 2082.6h-8M117 2119.7h8M1682.7 2119.7h-8M117 2156.7h8M1682.7 2156.7h-8" stroke="#000" stroke-width="1.2" fill="none"/>
<rect x="117" y="1971.4" width="1565.7" height="222.4" fill="none" stroke="#000" stroke-width="2"/>
<g class="tk" text-anchor="end">
<text x="107" y="1977.4">500</text><text x="107" y="2014.5">400</text><text x="107" y="2051.5">300</text><text x="107" y="2088.6">200</text><text x="107" y="2125.7">100</text><text x="107" y="2162.7">0</text><text x="107" y="2199.8">−100</text>
</g>
<g class="tk" text-anchor="middle">
<text x="253.7" y="2217.3">09/06 01:35:00</text><text x="511.9" y="2217.3">09/06 01:36:00</text><text x="770.2" y="2217.3">09/06 01:37:00</text><text x="1028.5" y="2217.3">09/06 01:38:00</text><text x="1286.7" y="2217.3">09/06 01:39:00</text><text x="1545" y="2217.3">09/06 01:40:00</text>
<text transform="translate(40.2,2082.6) rotate(-90)" y="6">Vsw(km/s)</text>
</g>
<rect x="1604" y="1978.4" width="72" height="72.2" fill="#fff" stroke="#000" stroke-width="2"/>
<line x1="1613.3" y1="1991.1" x2="1635.7" y2="1991.1" stroke="#f00" stroke-width="2.2"/>
<line x1="1613.3" y1="2013.4" x2="1635.7" y2="2013.4" stroke="#008000" stroke-width="2.2"/>
<line x1="1613.3" y1="2035.7" x2="1635.7" y2="2035.7" stroke="#00f" stroke-width="2.2"/>
<g class="lg"><text x="1651.7" y="1996.2">Vr</text><text x="1651.7" y="2018.5">Vt</text><text x="1651.7" y="2040.8">Vn</text></g>

<!-- ============ TS 4: Plasma Beta ============ -->
<text class="ttl" x="899.9" y="2296.3" text-anchor="middle">Plasma Beta</text>
<g clip-path="url(#t4)">
<polyline points="117,2342.9 237.4,2476.7 357.9,2491.4 478.3,2450.6 598.8,2467.8 719.2,2469 839.6,2382 960.1,2318 1080.5,2453.9 1201,2466.5 1321.4,2483.7 1441.8,2434.7 1562.3,2458 1682.7,2412.7" fill="none" stroke="#00f" stroke-width="1.7"/>
</g>
<path d="M253.7 2527.7v-8M253.7 2305.3v8M511.9 2527.7v-8M511.9 2305.3v8M770.2 2527.7v-8M770.2 2305.3v8M1028.5 2527.7v-8M1028.5 2305.3v8M1286.7 2527.7v-8M1286.7 2305.3v8M1545 2527.7v-8M1545 2305.3v8M117 2342.4h8M1682.7 2342.4h-8M117 2379.4h8M1682.7 2379.4h-8M117 2416.5h8M1682.7 2416.5h-8M117 2453.6h8M1682.7 2453.6h-8M117 2490.6h8M1682.7 2490.6h-8" stroke="#000" stroke-width="1.2" fill="none"/>
<rect x="117" y="2305.3" width="1565.7" height="222.4" fill="none" stroke="#000" stroke-width="2"/>
<g class="tk" text-anchor="end">
<text x="107" y="2311.3">0.50</text><text x="107" y="2348.4">0.45</text><text x="107" y="2385.4">0.40</text><text x="107" y="2422.5">0.35</text><text x="107" y="2459.6">0.30</text><text x="107" y="2496.6">0.25</text><text x="107" y="2533.7">0.20</text>
</g>
<g class="tk" text-anchor="middle">
<text x="253.7" y="2551.2">09/06 01:35:00</text><text x="511.9" y="2551.2">09/06 01:36:00</text><text x="770.2" y="2551.2">09/06 01:37:00</text><text x="1028.5" y="2551.2">09/06 01:38:00</text><text x="1286.7" y="2551.2">09/06 01:39:00</text><text x="1545" y="2551.2">09/06 01:40:00</text>
</g>
<text transform="translate(48.2,2416.5) rotate(-90)" y="5" text-anchor="middle" font-size="15"><tspan class="mi">β</tspan><tspan class="mi" font-size="10" dy="3">p</tspan></text>

<!-- ============ TS 5: Proton Number Density ============ -->
<text class="ttl" x="899.9" y="2629.6" text-anchor="middle">Proton Number Density</text>
<g clip-path="url(#t5)">
<polyline points="117,2684.3 237.4,2803.9 357.9,2828.8 478.3,2788 598.8,2820.2 719.2,2819.8 839.6,2756.9 960.1,2658.6 1080.5,2801.4 1201,2805.9 1321.4,2854.1 1441.8,2759.8 1562.3,2811.6 1682.7,2723.1" fill="none" stroke="#00f" stroke-width="1.7"/>
</g>
<path d="M253.7 2861v-8M253.7 2638.6v8M511.9 2861v-8M511.9 2638.6v8M770.2 2861v-8M770.2 2638.6v8M1028.5 2861v-8M1028.5 2638.6v8M1286.7 2861v-8M1286.7 2638.6v8M1545 2861v-8M1545 2638.6v8M117 2670.4h8M1682.7 2670.4h-8M117 2702.1h8M1682.7 2702.1h-8M117 2733.9h8M1682.7 2733.9h-8M117 2765.7h8M1682.7 2765.7h-8M117 2797.5h8M1682.7 2797.5h-8M117 2829.2h8M1682.7 2829.2h-8" stroke="#000" stroke-width="1.2" fill="none"/>
<rect x="117" y="2638.6" width="1565.7" height="222.4" fill="none" stroke="#000" stroke-width="2"/>
<g class="tk" text-anchor="end">
<text x="107" y="2644.6">26</text><text x="107" y="2676.4">25</text><text x="107" y="2708.1">24</text><text x="107" y="2739.9">23</text><text x="107" y="2771.7">22</text><text x="107" y="2803.5">21</text><text x="107" y="2835.2">20</text><text x="107" y="2867">19</text>
</g>
<g class="tk" text-anchor="middle">
<text x="253.7" y="2884.5">09/06 01:35:00</text><text x="511.9" y="2884.5">09/06 01:36:00</text><text x="770.2" y="2884.5">09/06 01:37:00</text><text x="1028.5" y="2884.5">09/06 01:38:00</text><text x="1286.7" y="2884.5">09/06 01:39:00</text><text x="1545" y="2884.5">09/06 01:40:00</text>
<text transform="translate(66.6,2749.8) rotate(-90)" y="6">Np(#/cc)</text>
</g>

<!-- ============ TS 6: Proton Temperature ============ -->
<text class="ttl" x="899.9" y="2963.4" text-anchor="middle">Proton Temperature and <tspan class="mi">T</tspan><tspan class="mi" font-size="14" dy="5">e</tspan><tspan class="mi" dy="-5">/T</tspan><tspan class="mi" font-size="14" dy="5">p</tspan></text>
<g clip-path="url(#t6)">
<polyline points="117,3063.1 237.4,3177.8 357.9,3154.1 478.3,3096.5 598.8,3110.8 719.2,3112.4 839.6,3019.4 960.1,2987.1 1080.5,3126.7 1201,3153.3 1321.4,3163.1 1441.8,3126.3 1562.3,3127.6 1682.7,3094.1" fill="none" stroke="#00f" stroke-width="1.7"/>
</g>
<path d="M253.7 3194.8v-8M253.7 2972.4v8M511.9 3194.8v-8M511.9 2972.4v8M770.2 3194.8v-8M770.2 2972.4v8M1028.5 3194.8v-8M1028.5 2972.4v8M1286.7 3194.8v-8M1286.7 2972.4v8M1545 3194.8v-8M1545 2972.4v8M117 3009.5h8M1682.7 3009.5h-8M117 3046.5h8M1682.7 3046.5h-8M117 3083.6h8M1682.7 3083.6h-8M117 3120.7h8M1682.7 3120.7h-8M117 3157.7h8M1682.7 3157.7h-8" stroke="#000" stroke-width="1.2" fill="none"/>
<rect x="117" y="2972.4" width="1565.7" height="222.4" fill="none" stroke="#000" stroke-width="2"/>
<g class="tk" text-anchor="end">
<text x="107" y="2978.4">0.14</text><text x="107" y="3015.5">0.13</text><text x="107" y="3052.5">0.12</text><text x="107" y="3089.6">0.11</text><text x="107" y="3126.7">0.10</text><text x="107" y="3163.7">0.09</text><text x="107" y="3200.8">0.08</text>
</g>
<g class="tk" text-anchor="middle">
<text x="253.7" y="3218.3">09/06 01:35:00</text><text x="511.9" y="3218.3">09/06 01:36:00</text><text x="770.2" y="3218.3">09/06 01:37:00</text><text x="1028.5" y="3218.3">09/06 01:38:00</text><text x="1286.7" y="3218.3">09/06 01:39:00</text><text x="1545" y="3218.3">09/06 01:40:00</text>
<text transform="translate(47.3,3083.6) rotate(-90)" y="6">Tp(<tspan font-size="12">10</tspan><tspan font-size="9" dy="-7">6</tspan><tspan dy="7">K)</tspan></text>
</g>
<rect x="123.7" y="2979.4" width="71.3" height="27.1" fill="#fff" stroke="#000" stroke-width="2"/>
<line x1="135.4" y1="2992.9" x2="155" y2="2992.9" stroke="#00f" stroke-width="2.2"/>
<text class="lg" x="171" y="2998">Tp</text>
</svg>
</body></html>
